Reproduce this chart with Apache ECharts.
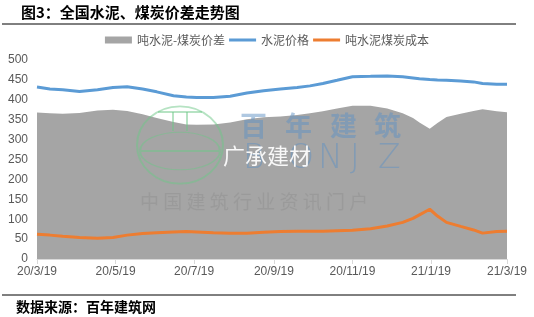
<!DOCTYPE html>
<html>
<head>
<meta charset="utf-8">
<script src="https://cdn.jsdelivr.net/npm/echarts@6/dist/echarts.min.js"></script>
<style>
html,body{margin:0;padding:0;background:#fff;}
#chart{width:534px;height:317px;}
</style>
</head>
<body>
<div id="chart"></div>
<script>
// ---- data ----
const dates = ['2020-03-19','2020-03-29','2020-04-08','2020-04-21','2020-05-05','2020-05-17','2020-05-28','2020-06-09','2020-06-20','2020-07-03','2020-07-13','2020-07-21','2020-08-03','2020-08-16','2020-08-29','2020-09-11','2020-09-24','2020-10-07','2020-10-17','2020-10-27','2020-11-07','2020-11-19','2020-12-03','2020-12-16','2020-12-28','2021-01-05','2021-01-10','2021-01-18','2021-01-24','2021-01-31','2021-02-11','2021-02-21','2021-02-28','2021-03-11','2021-03-19'];
const spread = [368,366,365,367,373,375,372,364,354,344,338,337,338,343,351,356,358,362,366,371,378,385,385,378,366,354,343,327,342,357,365,372,376,371,369];
const cementPrice = [432,427,425,421,425,431,433,427,420,410,407,406,406,409,417,423,427,431,435,441,449,458,459,460,458,455,453,451,450,449,447,445,441,439,439];
const coalCost = [62,60,57,54,52,54,60,64,66,68,69,68,66,65,65,67,69,70,70,70,71,72,76,83,92,102,111,125,108,92,82,73,65,69,70];
const xTickDates = ['2020-03-19','2020-05-19','2020-07-19','2020-09-19','2020-11-19','2021-01-19','2021-03-19'];
const xTickLabels = ['20/3/19','20/5/19','20/7/19','20/9/19','20/11/19','21/1/19','21/3/19'];
const seriesNames = ['吨水泥-煤炭价差','水泥价格','吨水泥煤炭成本'];
const titleText = '图3：全国水泥、煤炭价差走势图';
const sourceText = '数据来源：百年建筑网';

// day index counted from the first date (UTC-safe)
function dayNum(s){const p=s.split('-').map(Number);return Math.round(Date.UTC(p[0],p[1]-1,p[2])/86400000);}
const day0 = dayNum(dates[0]);
const tickDays = xTickDates.map(d=>dayNum(d)-day0);
function pairs(vals){return dates.map((d,i)=>[dayNum(d)-day0,vals[i]]);}

const chart = echarts.init(document.getElementById('chart'), null, {renderer:'canvas'});
const numFont = '"Liberation Sans", "Noto Sans CJK SC", sans-serif';
const cjkFont = '"Noto Sans CJK SC", sans-serif';
// thin horizontal bar inside a 7px-high box (tiny segments keep the box height)
const lineIcon = 'path://M0,0L0.01,0M0,2H27V5H0ZM0,7L0.01,7';
const WM = 100;
const green = 'rgba(110,200,135,0.5)';
const wmBlue = 'rgba(95,145,195,0.5)';

function wmText(t,x,y,font,fill){return {type:'text',z:WM,silent:true,x:x,y:y,style:{text:t,fill:fill,font:font}};}
const brandChars = [['百',240],['年',285],['建',330],['筑',374]];
const latinChars = [['B',243],['O',288],['N',318],['J',350],['Z',378]];

const graphics = [
  {type:'text',left:21,top:5,style:{text:titleText,fill:'#000',font:'bold 15px '+cjkFont}},
  {type:'line',shape:{x1:2,y1:24,x2:516,y2:24},style:{stroke:'#000',lineWidth:1}},
  {type:'line',shape:{x1:2,y1:295,x2:516,y2:295},style:{stroke:'#000',lineWidth:1}},
  {type:'text',left:16,top:300,style:{text:sourceText,fill:'#000',font:'bold 14px '+cjkFont}},
  // watermark logo
  {type:'circle',z:WM,silent:true,x:180,y:145,scaleY:0.9,shape:{cx:0,cy:0,r:43},style:{fill:'none',stroke:green,lineWidth:2}},
  {type:'circle',z:WM,silent:true,x:180,y:151,scaleY:0.47,shape:{cx:0,cy:0,r:40},style:{fill:'none',stroke:green,lineWidth:2}},
  {type:'line',z:WM,silent:true,shape:{x1:141,y1:151,x2:219,y2:151},style:{stroke:green,lineWidth:2}},
  {type:'line',z:WM,silent:true,shape:{x1:158,y1:112,x2:202,y2:112},style:{stroke:green,lineWidth:2}},
  {type:'line',z:WM,silent:true,shape:{x1:173,y1:112,x2:173,y2:131},style:{stroke:green,lineWidth:2}},
  {type:'line',z:WM,silent:true,shape:{x1:187,y1:112,x2:187,y2:131},style:{stroke:green,lineWidth:2}}
];
brandChars.forEach(c=>graphics.push(wmText(c[0],c[1],112,'bold 27px '+cjkFont,wmBlue)));
latinChars.forEach(c=>graphics.push(wmText(c[0],c[1],143,'200 33px "DejaVu Sans", "Liberation Sans", sans-serif',wmBlue)));
graphics.push(wmText('广承建材',223,145,'22px '+cjkFont,'rgba(255,255,255,0.92)'));
graphics.push(wmText('中 国 建 筑 行 业 资 讯 门 户',140,192,'19px '+cjkFont,'rgba(120,120,120,0.22)'));

chart.setOption({
  animation:false,
  backgroundColor:'#fff',
  grid:{left:37,right:27,top:60,bottom:58,containLabel:false},
  legend:{
    top:29,left:'center',
    itemWidth:27,itemHeight:7,itemGap:4,
    textStyle:{color:'#595959',fontSize:12,fontFamily:cjkFont},
    data:[
      {name:seriesNames[0],icon:'rect'},
      {name:seriesNames[1],icon:lineIcon},
      {name:seriesNames[2],icon:lineIcon}
    ]
  },
  xAxis:{
    type:'value',
    min:tickDays[0],max:tickDays[tickDays.length-1],
    axisLine:{show:true,lineStyle:{color:'#d9d9d9',width:1}},
    axisTick:{show:true,length:5,lineStyle:{color:'#d9d9d9'},customValues:tickDays},
    axisLabel:{
      customValues:tickDays,
      color:'#595959',fontSize:12,fontFamily:numFont,margin:7,
      formatter:function(v){
        const i=tickDays.indexOf(Math.round(v));
        return i>=0?xTickLabels[i]:'';
      }
    },
    splitLine:{show:false}
  },
  yAxis:{
    type:'value',min:0,max:500,interval:50,
    axisLine:{show:false},axisTick:{show:false},
    axisLabel:{color:'#595959',fontSize:12,fontFamily:numFont,margin:9},
    splitLine:{show:false}
  },
  series:[
    {
      name:seriesNames[0],type:'line',data:pairs(spread),
      symbol:'none',lineStyle:{width:0,color:'#a5a5a5'},
      itemStyle:{color:'#a5a5a5'},
      areaStyle:{color:'#a5a5a5',opacity:1},z:1
    },
    {
      name:seriesNames[1],type:'line',data:pairs(cementPrice),
      symbol:'none',lineStyle:{width:3,color:'#5b9bd5'},itemStyle:{color:'#5b9bd5'},z:3
    },
    {
      name:seriesNames[2],type:'line',data:pairs(coalCost),
      symbol:'none',lineStyle:{width:3,color:'#ed7d31'},itemStyle:{color:'#ed7d31'},z:3
    }
  ],
  graphic:graphics
});
</script>
</body>
</html>
